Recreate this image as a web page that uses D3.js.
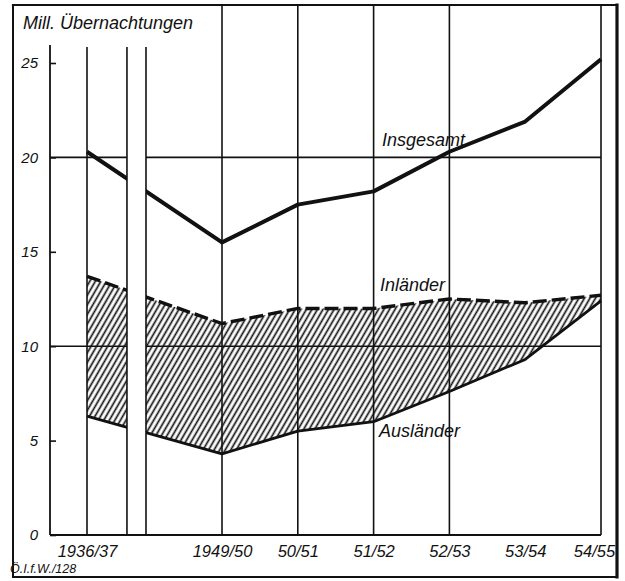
<!DOCTYPE html>
<html>
<head>
<meta charset="utf-8">
<script src="https://cdn.jsdelivr.net/npm/d3@7"></script>
<style>
  html, body { margin: 0; padding: 0; background: #fff; overflow: hidden; }
  svg { display: block; }
  text { font-family: "Liberation Sans", Arial, sans-serif; font-style: italic; fill: #111; }
</style>
</head>
<body>
<div id="chart"></div>
<script>
// ---- data ----
const categories = ["1936/37", "1949/50", "50/51", "51/52", "52/53", "53/54", "54/55"];
const insgesamt  = [20.3, 15.5, 17.5, 18.2, 20.3, 21.9, 25.2];
const inlaender  = [13.7, 11.2, 12.0, 12.0, 12.5, 12.3, 12.7];
const auslaender = [6.3, 4.3, 5.5, 6.0, 7.6, 9.3, 12.4];
const yTicks = [0, 5, 10, 15, 20, 25];
const yGrid = [10, 20];
const yTitle = "Mill. Übernachtungen";
const seriesLabels = ["Insgesamt", "Inländer", "Ausländer"];
const sourceNote = "Ö.I.f.W./128";

// ---- layout ----
const W = 625, H = 581;
const svg = d3.select("#chart").append("svg").attr("width", W).attr("height", H);
const ink = "#111";

const x = d3.scaleLinear().domain([0, 1, 6]).range([87, 222, 601]);
const y = d3.scaleLinear().domain([0, 25]).range([535, 63]);
const axisX = 50;
const breakIdx = [0.296, 0.437];   // axis break between 1936/37 and 1949/50
const shortTop = 47;                // top of y-axis and short rules
const frame = {l: 13, t: 5, r: 617, b: 577};

// hatch pattern
const defs = svg.append("defs");
const pat = defs.append("pattern")
  .attr("id", "hatch").attr("patternUnits", "userSpaceOnUse")
  .attr("width", 4.8).attr("height", 10)
  .attr("patternTransform", "rotate(30)");
pat.append("line").attr("x1", 2.4).attr("x2", 2.4).attr("y1", -1).attr("y2", 11)
  .attr("stroke", ink).attr("stroke-width", 1.7);

// frame (four sides)
const sides = [
  [frame.l, frame.t, frame.r, frame.t, 2.2],
  [frame.l, frame.b, frame.r, frame.b, 2],
  [frame.l, frame.t, frame.l, frame.b, 2],
  [frame.r, frame.t, frame.r, frame.b, 3.2]
];
svg.append("g").selectAll("line").data(sides).join("line")
  .attr("x1", d => d[0]).attr("y1", d => d[1]).attr("x2", d => d[2]).attr("y2", d => d[3])
  .attr("stroke", ink).attr("stroke-width", d => d[4]).attr("stroke-linecap", "square");

// horizontal gridlines
svg.append("g").selectAll("line").data(yGrid).join("line")
  .attr("x1", axisX).attr("x2", x(6))
  .attr("y1", d => y(d)).attr("y2", d => y(d))
  .attr("stroke", ink).attr("stroke-width", 1.6);

// vertical rules: 1936/37 short; 53/54 has none
const idx = d3.range(categories.length);
svg.append("g").selectAll("line").data(idx.filter(i => i !== 5)).join("line")
  .attr("x1", d => x(d)).attr("x2", d => x(d))
  .attr("y1", d => d === 0 ? shortTop : frame.t).attr("y2", y(0))
  .attr("stroke", ink).attr("stroke-width", 1.6);

// hatched area between Ausländer and Inländer
svg.append("path")
  .datum(idx)
  .attr("d", d3.area().x(i => x(i)).y0(i => y(auslaender[i])).y1(i => y(inlaender[i])))
  .attr("fill", "url(#hatch)");

const line = arr => d3.line().x(i => x(i)).y(i => y(arr[i]))(idx);
svg.append("path").attr("d", line(auslaender)).attr("fill", "none")
  .attr("stroke", ink).attr("stroke-width", 2.8).attr("stroke-linejoin", "round");
svg.append("path").attr("d", line(inlaender)).attr("fill", "none")
  .attr("stroke", ink).attr("stroke-width", 3.4).attr("stroke-dasharray", "14,5");
svg.append("path").attr("d", line(insgesamt)).attr("fill", "none")
  .attr("stroke", ink).attr("stroke-width", 4).attr("stroke-linejoin", "round");

// axis break band
svg.append("rect")
  .attr("x", x(breakIdx[0])).attr("width", x(breakIdx[1]) - x(breakIdx[0]))
  .attr("y", shortTop - 2).attr("height", y(0) - shortTop + 1)
  .attr("fill", "#fff");
svg.append("g").selectAll("line").data(breakIdx).join("line")
  .attr("x1", d => x(d)).attr("x2", d => x(d))
  .attr("y1", shortTop).attr("y2", y(0))
  .attr("stroke", ink).attr("stroke-width", 1.6);

// y axis
svg.append("line").attr("x1", axisX).attr("x2", axisX).attr("y1", shortTop - 2).attr("y2", y(0))
  .attr("stroke", ink).attr("stroke-width", 1.8);
const yAxis = svg.append("g").attr("transform", `translate(${axisX},0)`)
  .call(d3.axisLeft(y).tickValues(yTicks).tickSize(-6).tickPadding(12).tickFormat(d3.format("d")));
yAxis.select(".domain").remove();
yAxis.selectAll(".tick line").attr("stroke", ink).attr("stroke-width", 1.6);
yAxis.selectAll(".tick text").attr("font-size", 15).attr("font-style", "italic")
  .attr("font-family", "Liberation Sans, Arial, sans-serif").attr("fill", ink);

// x axis
svg.append("line").attr("x1", axisX).attr("x2", x(6)).attr("y1", y(0)).attr("y2", y(0))
  .attr("stroke", ink).attr("stroke-width", 1.8);
const xAxis = svg.append("g").attr("transform", `translate(0,${y(0)})`)
  .call(d3.axisBottom(x).tickValues(idx).tickSize(0).tickPadding(10).tickFormat(i => categories[i]));
xAxis.select(".domain").remove();
xAxis.selectAll(".tick text").attr("font-size", 16.5).attr("font-style", "italic")
  .attr("font-family", "Liberation Sans, Arial, sans-serif").attr("fill", ink);
xAxis.selectAll(".tick").filter(i => i === 6).select("text").attr("dx", -7);

// titles and labels
svg.append("text").attr("x", 23).attr("y", 29).attr("font-size", 18).text(yTitle);
svg.append("text").attr("x", 382).attr("y", 146).attr("font-size", 18).text(seriesLabels[0]);
svg.append("text").attr("x", 380).attr("y", 291).attr("font-size", 18).text(seriesLabels[1]);
svg.append("text").attr("x", 379).attr("y", 437).attr("font-size", 18).text(seriesLabels[2]);
svg.append("text").attr("x", 10).attr("y", 573).attr("font-size", 12.5).text(sourceNote);
</script>
</body>
</html>
